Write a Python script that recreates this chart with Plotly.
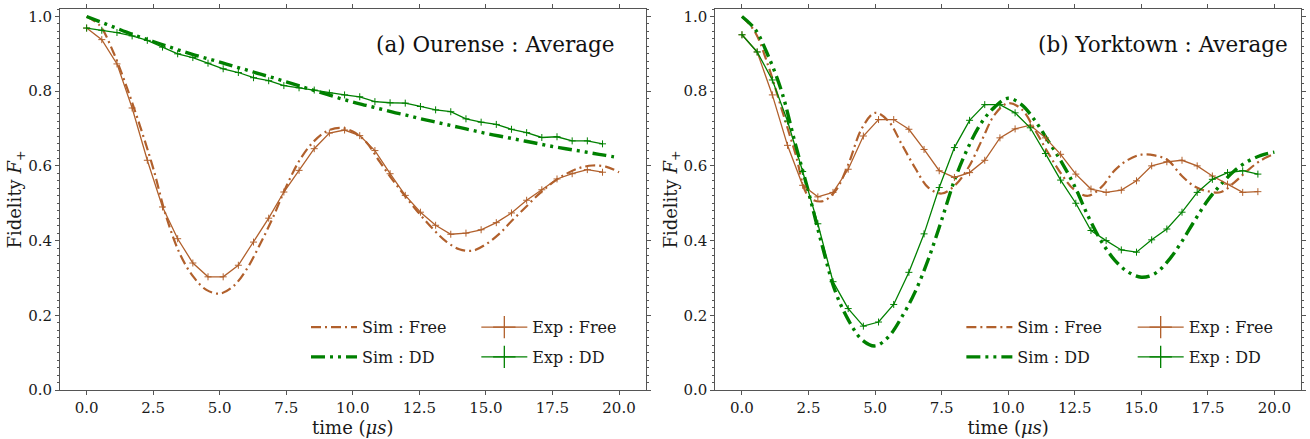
import plotly.graph_objects as go

# ---------------- data ----------------
# simulation time grid (µs)
t_sim = [0.0, 0.5, 1.0, 1.5, 2.0, 2.5, 3.0, 3.5, 4.0, 4.5, 5.0, 5.5, 6.0, 6.5, 7.0,
         7.5, 8.0, 8.5, 9.0, 9.5, 10.0, 10.5, 11.0, 11.5, 12.0, 12.5, 13.0, 13.5,
         14.0, 14.5, 15.0, 15.5, 16.0, 16.5, 17.0, 17.5, 18.0, 18.5, 19.0, 19.5, 20.0]

# experiment time grid (µs)
t_exp = [0.0, 0.57, 1.14, 1.71, 2.28, 2.85, 3.42, 3.99, 4.56, 5.13, 5.70, 6.27,
         6.84, 7.41, 7.98, 8.55, 9.12, 9.69, 10.26, 10.83, 11.40, 11.97, 12.54,
         13.11, 13.68, 14.25, 14.82, 15.39, 15.96, 16.53, 17.10, 17.67, 18.24,
         18.81, 19.38]

# (a) Ourense
ou_sim_free = [1.000, 0.975, 0.905, 0.812, 0.708, 0.594, 0.462, 0.365, 0.304, 0.268,
               0.258, 0.277, 0.322, 0.388, 0.462, 0.545, 0.615, 0.663, 0.692, 0.702,
               0.692, 0.664, 0.612, 0.562, 0.516, 0.472, 0.432, 0.398, 0.377, 0.373,
               0.390, 0.418, 0.455, 0.490, 0.525, 0.555, 0.578, 0.594, 0.601, 0.598,
               0.583]
ou_sim_dd = [1.000, 0.986, 0.972, 0.958, 0.945, 0.933, 0.921, 0.909, 0.898, 0.888,
             0.878, 0.867, 0.857, 0.846, 0.836, 0.825, 0.814, 0.803, 0.792, 0.781,
             0.771, 0.762, 0.753, 0.744, 0.736, 0.727, 0.719, 0.711, 0.703, 0.695,
             0.687, 0.680, 0.673, 0.666, 0.659, 0.652, 0.646, 0.640, 0.634, 0.628,
             0.622]
ou_exp_free = [0.969, 0.938, 0.873, 0.755, 0.615, 0.490, 0.405, 0.340, 0.303, 0.303,
               0.334, 0.396, 0.460, 0.530, 0.588, 0.646, 0.688, 0.696, 0.681, 0.641,
               0.579, 0.521, 0.476, 0.441, 0.417, 0.420, 0.429, 0.448, 0.474, 0.508,
               0.536, 0.565, 0.579, 0.590, 0.583]
ou_exp_dd = [0.969, 0.963, 0.957, 0.948, 0.936, 0.918, 0.900, 0.890, 0.875, 0.860,
             0.850, 0.836, 0.828, 0.815, 0.809, 0.803, 0.795, 0.790, 0.785, 0.772,
             0.769, 0.768, 0.759, 0.750, 0.745, 0.726, 0.717, 0.711, 0.698, 0.689,
             0.676, 0.678, 0.667, 0.667, 0.659]

# (b) Yorktown
yt_sim_free = [1.000, 0.957, 0.865, 0.750, 0.635, 0.518, 0.505, 0.532, 0.605, 0.700,
               0.742, 0.720, 0.658, 0.595, 0.542, 0.526, 0.548, 0.595, 0.667, 0.738,
               0.768, 0.752, 0.697, 0.635, 0.578, 0.535, 0.520, 0.543, 0.588, 0.616,
               0.630, 0.628, 0.615, 0.575, 0.545, 0.532, 0.530, 0.556, 0.588, 0.615,
               0.632]
yt_sim_dd = [1.000, 0.965, 0.892, 0.797, 0.660, 0.530, 0.390, 0.265, 0.187, 0.135,
             0.118, 0.142, 0.195, 0.262, 0.350, 0.455, 0.565, 0.650, 0.716, 0.758,
             0.781, 0.764, 0.722, 0.667, 0.611, 0.545, 0.466, 0.398, 0.348, 0.316,
             0.302, 0.311, 0.345, 0.395, 0.453, 0.508, 0.551, 0.587, 0.612, 0.628,
             0.637]
yt_exp_free = [0.951, 0.905, 0.790, 0.655, 0.548, 0.517, 0.529, 0.591, 0.680, 0.724,
               0.724, 0.698, 0.644, 0.587, 0.569, 0.582, 0.615, 0.675, 0.699, 0.709,
               0.675, 0.631, 0.578, 0.538, 0.529, 0.535, 0.560, 0.600, 0.611, 0.615,
               0.600, 0.573, 0.551, 0.529, 0.531]
yt_exp_dd = [0.951, 0.905, 0.830, 0.720, 0.585, 0.445, 0.290, 0.218, 0.171, 0.182,
             0.229, 0.315, 0.418, 0.542, 0.649, 0.722, 0.764, 0.764, 0.742, 0.702,
             0.633, 0.562, 0.500, 0.427, 0.400, 0.375, 0.369, 0.402, 0.431, 0.476,
             0.529, 0.564, 0.582, 0.587, 0.578]

panel_titles = ["(a) Ourense : Average", "(b) Yorktown : Average"]
x_ticks = [0.0, 2.5, 5.0, 7.5, 10.0, 12.5, 15.0, 17.5, 20.0]
y_ticks = [0.0, 0.2, 0.4, 0.6, 0.8, 1.0]

# ---------------- styling ----------------
BROWN = "#B1602C"
GREEN = "#008000"
FONT = "DejaVu Serif"
TEXT = "#1a1a1a"
AXIS = "#555555"
DASH_FREE = "10px,4px,2px,4px"
DASH_DD = "14px,5px,3px,5px,3px,5px"

fig = go.Figure()

panels = [
    ("x", "y", ou_sim_free, ou_sim_dd, ou_exp_free, ou_exp_dd),
    ("x2", "y2", yt_sim_free, yt_sim_dd, yt_exp_free, yt_exp_dd),
]
for xa, ya, sfree, sdd, efree, edd in panels:
    fig.add_trace(go.Scatter(x=t_sim, y=sfree, xaxis=xa, yaxis=ya, mode="lines",
                             line=dict(color=BROWN, width=2.2, dash=DASH_FREE, shape="spline"),
                             showlegend=False))
    fig.add_trace(go.Scatter(x=t_sim, y=sdd, xaxis=xa, yaxis=ya, mode="lines",
                             line=dict(color=GREEN, width=3.4, dash=DASH_DD, shape="spline"),
                             showlegend=False))
    fig.add_trace(go.Scatter(x=t_exp, y=efree, xaxis=xa, yaxis=ya, mode="lines+markers",
                             line=dict(color=BROWN, width=1.3),
                             marker=dict(symbol="cross-thin", size=5, line=dict(color=BROWN, width=1)),
                             showlegend=False))
    fig.add_trace(go.Scatter(x=t_exp, y=edd, xaxis=xa, yaxis=ya, mode="lines+markers",
                             line=dict(color=GREEN, width=1.3),
                             marker=dict(symbol="cross-thin", size=5, line=dict(color=GREEN, width=1)),
                             showlegend=False))

# legend entries (two columns per panel)
legend_specs = [
    ("legend", "Sim : Free", dict(color=BROWN, width=2.2, dash=DASH_FREE), None),
    ("legend", "Sim : DD", dict(color=GREEN, width=3.4, dash=DASH_DD), None),
    ("legend2", "Exp : Free", dict(color=BROWN, width=1.3), BROWN),
    ("legend2", "Exp : DD", dict(color=GREEN, width=1.3), GREEN),
    ("legend3", "Sim : Free", dict(color=BROWN, width=2.2, dash=DASH_FREE), None),
    ("legend3", "Sim : DD", dict(color=GREEN, width=3.4, dash=DASH_DD), None),
    ("legend4", "Exp : Free", dict(color=BROWN, width=1.3), BROWN),
    ("legend4", "Exp : DD", dict(color=GREEN, width=1.3), GREEN),
]
for i, (lg, name, ln, mc) in enumerate(legend_specs):
    kw = dict(x=[None], y=[None], name=name, legend=lg, line=ln, legendgroup=f"g{i}")
    if mc is None:
        kw["mode"] = "lines"
    else:
        kw["mode"] = "lines+markers"
        kw["marker"] = dict(symbol="cross-thin", size=18, line=dict(color=mc, width=1.3))
    fig.add_trace(go.Scatter(**kw))

W, H = 1310, 439
ML, MR, MT, MB = 60, 4, 8, 49
PW, PH = W - ML - MR, H - MT - MB


def px_x(px):
    return (px - ML) / PW


def px_y(py):
    return (H - MB - py) / PH


leg_common = dict(font=dict(family=FONT, size=16, color=TEXT), bgcolor="rgba(0,0,0,0)",
                  yanchor="top", xanchor="left", tracegroupgap=6, itemwidth=46)
y_top = px_y(310)
fig.update_layout(
    legend=dict(x=px_x(307), y=y_top, **leg_common),
    legend2=dict(x=px_x(478), y=y_top, **leg_common),
    legend3=dict(x=px_x(965), y=y_top, **leg_common),
    legend4=dict(x=px_x(1137), y=y_top, **leg_common),
)

axis_common = dict(showgrid=False, zeroline=False, showline=True, linecolor=AXIS, linewidth=1,
                   mirror="ticks", ticks="outside", ticklen=4, tickcolor=AXIS, tickwidth=1,
                   tickfont=dict(family=FONT, size=15, color=TEXT))
xa_common = dict(axis_common, range=[-1, 21], tickvals=x_ticks,
                 ticktext=[f"{v:.1f}" for v in x_ticks],
                 title=dict(text="time (<i>μs</i>)", font=dict(family=FONT, size=18, color=TEXT),
                            standoff=1))
ya_common = dict(axis_common, range=[0, 1.02], tickvals=y_ticks,
                 ticktext=[f"{v:.1f}" for v in y_ticks],
                 minor=dict(dtick=0.02, ticklen=2, tickcolor=AXIS, ticks="outside"),
                 title=dict(text="Fidelity <i>F</i><sub>+</sub>",
                            font=dict(family=FONT, size=18, color=TEXT), standoff=0))

fig.update_layout(
    xaxis=dict(xa_common, domain=[0, px_x(648)], anchor="y"),
    yaxis=dict(ya_common, domain=[0, 1], anchor="x"),
    xaxis2=dict(xa_common, domain=[px_x(718), 1], anchor="y2"),
    yaxis2=dict(ya_common, domain=[0, 1], anchor="x2"),
    width=W, height=H,
    margin=dict(l=ML, r=MR, t=MT, b=MB),
    plot_bgcolor="white", paper_bgcolor="white",
    font=dict(family=FONT, color=TEXT),
)

for right_px, text in [(619, panel_titles[0]), (1295, panel_titles[1])]:
    fig.add_annotation(x=px_x(right_px), y=px_y(44), xref="paper", yref="paper", text=text,
                       showarrow=False, xanchor="right", yanchor="middle",
                       font=dict(family=FONT, size=21.5, color="#111111"))

fig.write_html("out.html")
